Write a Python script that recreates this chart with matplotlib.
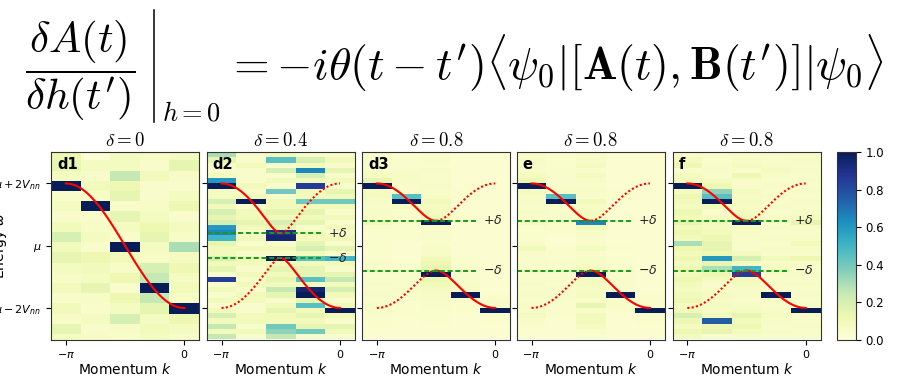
import matplotlib
matplotlib.use("Agg")
import matplotlib.pyplot as plt
from matplotlib.lines import Line2D
import numpy as np

plt.rcParams["font.family"] = "DejaVu Sans"
plt.rcParams["mathtext.fontset"] = "dejavusans"

# momentum points (units of pi) and the delta of each panel
momentum = np.array([-1.0, -0.75, -0.5, -0.25, 0.0]) * np.pi
deltas = [0, 0.4, 0.8, 0.8, 0.8]
titles = ["0", "0.4", "0.8", "0.8", "0.8"]
labels = ["d1", "d2", "d3", "e", "f"]

# spectral weight in percent, rows from top (high energy) to bottom
# d1: coarse energy bins (19 rows)
d1 = [
    [12, 2, 8, 6, 8],
    [15, 8, 8, 5, 15],
    [8, 5, 25, 10, 6],
    [100, 10, 12, 5, 5],
    [5, 6, 15, 5, 8],
    [8, 100, 5, 6, 12],
    [5, 5, 15, 8, 5],
    [10, 6, 8, 12, 8],
    [20, 8, 5, 15, 6],
    [10, 5, 100, 8, 30],
    [15, 12, 10, 6, 8],
    [8, 10, 6, 20, 12],
    [6, 8, 12, 25, 8],
    [10, 15, 5, 100, 10],
    [5, 6, 12, 25, 6],
    [10, 5, 8, 15, 100],
    [6, 8, 20, 8, 12],
    [15, 5, 6, 10, 8],
    [8, 6, 5, 8, 5],
]

# d2 .. f: fine energy bins (36 rows)
d2 = [
    [30, 5, 10, 5, 5],
    [15, 5, 45, 20, 10],
    [5, 10, 5, 10, 5],
    [5, 5, 20, 65, 15],
    [8, 5, 5, 20, 5],
    [60, 5, 10, 10, 10],
    [100, 10, 5, 85, 5],
    [8, 5, 40, 10, 15],
    [8, 10, 5, 10, 10],
    [20, 100, 10, 40, 40],
    [10, 5, 10, 10, 10],
    [20, 10, 15, 15, 5],
    [15, 10, 10, 10, 10],
    [20, 15, 20, 15, 5],
    [60, 10, 15, 5, 10],
    [65, 5, 90, 10, 5],
    [50, 10, 95, 10, 10],
    [15, 5, 5, 15, 5],
    [10, 10, 10, 20, 15],
    [10, 5, 5, 10, 5],
    [20, 10, 100, 45, 50],
    [10, 10, 10, 10, 10],
    [15, 5, 15, 15, 5],
    [5, 10, 10, 15, 15],
    [85, 5, 15, 45, 25],
    [5, 10, 10, 10, 10],
    [10, 5, 25, 95, 20],
    [5, 10, 15, 100, 10],
    [10, 10, 5, 15, 5],
    [5, 5, 10, 45, 10],
    [10, 5, 15, 10, 100],
    [20, 10, 10, 15, 10],
    [10, 10, 10, 10, 5],
    [25, 5, 40, 15, 15],
    [10, 10, 35, 40, 10],
    [25, 5, 25, 5, 5],
]

d3 = [
    [5, 3, 4, 3, 3],
    [6, 4, 5, 3, 3],
    [5, 4, 4, 3, 3],
    [6, 5, 6, 3, 3],
    [8, 6, 5, 3, 3],
    [15, 6, 5, 3, 3],
    [100, 5, 6, 3, 3],
    [8, 5, 5, 4, 3],
    [8, 45, 6, 4, 3],
    [6, 100, 10, 3, 3],
    [5, 8, 8, 3, 3],
    [6, 5, 8, 3, 3],
    [6, 5, 10, 4, 3],
    [10, 5, 100, 3, 3],
    [5, 4, 6, 3, 3],
    [4, 4, 5, 3, 3],
    [4, 4, 5, 3, 3],
    [4, 3, 4, 3, 3],
    [4, 3, 6, 3, 3],
    [4, 3, 6, 3, 3],
    [4, 3, 10, 4, 3],
    [5, 4, 12, 4, 3],
    [5, 5, 15, 4, 3],
    [5, 5, 100, 5, 3],
    [5, 5, 12, 5, 3],
    [6, 5, 10, 6, 3],
    [5, 6, 8, 6, 3],
    [6, 5, 6, 100, 4],
    [5, 4, 5, 5, 5],
    [6, 4, 5, 4, 6],
    [5, 4, 4, 4, 100],
    [5, 4, 4, 3, 5],
    [4, 3, 4, 3, 4],
    [4, 3, 3, 3, 3],
    [3, 3, 3, 3, 3],
    [3, 3, 3, 3, 3],
]

e = [
    [5, 4, 5, 3, 3],
    [6, 4, 6, 3, 3],
    [5, 4, 8, 3, 3],
    [6, 5, 5, 3, 3],
    [8, 5, 8, 3, 3],
    [12, 5, 6, 3, 3],
    [100, 5, 5, 3, 3],
    [8, 6, 6, 4, 3],
    [6, 45, 5, 4, 3],
    [6, 100, 10, 3, 3],
    [5, 6, 6, 3, 3],
    [6, 5, 8, 3, 3],
    [5, 5, 8, 3, 3],
    [8, 5, 65, 3, 3],
    [5, 4, 10, 3, 3],
    [4, 4, 6, 3, 3],
    [4, 3, 5, 3, 3],
    [5, 3, 5, 3, 3],
    [10, 4, 8, 4, 3],
    [5, 4, 5, 3, 3],
    [5, 4, 6, 4, 3],
    [5, 5, 6, 4, 3],
    [5, 4, 8, 4, 3],
    [5, 5, 100, 5, 3],
    [5, 5, 8, 5, 3],
    [6, 4, 8, 5, 3],
    [5, 5, 6, 5, 3],
    [6, 5, 8, 100, 4],
    [5, 4, 6, 5, 4],
    [6, 4, 15, 5, 5],
    [5, 4, 6, 4, 100],
    [8, 4, 10, 3, 5],
    [5, 3, 10, 3, 4],
    [4, 3, 8, 3, 3],
    [3, 3, 5, 3, 3],
    [3, 3, 4, 3, 3],
]

f = [
    [5, 5, 5, 5, 5],
    [8, 4, 6, 5, 6],
    [12, 5, 8, 6, 5],
    [5, 6, 5, 8, 6],
    [8, 5, 12, 6, 5],
    [10, 8, 6, 5, 6],
    [100, 12, 5, 6, 5],
    [8, 35, 8, 5, 6],
    [12, 45, 6, 6, 5],
    [10, 100, 8, 5, 6],
    [8, 10, 6, 6, 5],
    [12, 5, 8, 5, 6],
    [10, 8, 10, 6, 8],
    [15, 10, 100, 5, 15],
    [10, 8, 8, 6, 6],
    [12, 10, 6, 5, 5],
    [10, 12, 5, 6, 6],
    [30, 15, 5, 5, 10],
    [12, 15, 5, 6, 6],
    [10, 12, 8, 5, 5],
    [12, 60, 20, 10, 12],
    [8, 15, 8, 6, 6],
    [12, 30, 50, 8, 5],
    [10, 12, 85, 6, 6],
    [12, 8, 10, 5, 5],
    [10, 5, 8, 6, 6],
    [8, 6, 6, 5, 5],
    [10, 8, 6, 100, 6],
    [12, 6, 5, 6, 5],
    [8, 8, 6, 5, 6],
    [10, 6, 8, 6, 100],
    [20, 10, 15, 8, 6],
    [12, 75, 10, 6, 5],
    [8, 12, 12, 5, 6],
    [12, 15, 8, 6, 5],
    [8, 5, 6, 5, 5],
]

panels = [d1, d2, d3, e, f]

W, H = 899, 377
fig = plt.figure(figsize=(W / 100, H / 100), dpi=100)

# the response formula, set in pieces so the evaluation bar can span the fraction
eq_base = 1 - 80 / H
fig.text(25 / W, eq_base, r"$\dfrac{\delta A(t)}{\delta h(t')}$", fontsize=31,
         math_fontfamily="cm", va="baseline", ha="left")
fig.add_artist(Line2D([154 / W, 154 / W], [1 - 10 / H, 1 - 122 / H], color="black", lw=1.1))
fig.text(162 / W, 1 - 121 / H, r"$h=0$", fontsize=19, math_fontfamily="cm",
         va="baseline", ha="left")
fig.text(225 / W, eq_base,
         r"$= -i\theta(t-t')\langle\psi_0|[\mathbf{A}(t),\mathbf{B}(t')]|\psi_0\rangle$",
         fontsize=33, math_fontfamily="cm", va="baseline", ha="left")

lefts = [51, 206.7, 362, 516.7, 672.5]
bottom, pw, ph = 37, 148, 188

dk = momentum[1] - momentum[0]
k_edges = np.append(momentum - dk / 2, momentum[-1] + dk / 2)
coarse_edges = np.linspace(-3.17, 3.07, 20)
fine_edges = np.linspace(-3, 3, 37)
kk = np.linspace(-np.pi, 0, 300)

for i, (vals, delta) in enumerate(zip(panels, deltas)):
    ax = fig.add_axes([lefts[i] / W, bottom / H, pw / W, ph / H])
    z = np.flipud(np.array(vals)) / 100.0
    edges = coarse_edges if i == 0 else fine_edges
    mesh = ax.pcolormesh(k_edges, edges, z, cmap="YlGnBu", vmin=0, vmax=1)

    band = np.sqrt((4 - delta ** 2) * np.cos(kk) ** 2 + delta ** 2)
    left = kk <= -np.pi / 2
    right = kk >= -np.pi / 2
    ax.plot(kk[left], band[left], color="red", lw=1.5)
    ax.plot(kk[right], -band[right], color="red", lw=1.5)
    if delta > 0:
        ax.plot(kk[left], -band[left], color="red", lw=1.5, ls=(0, (1, 1.1)))
        ax.plot(kk[right], band[right], color="red", lw=1.5, ls=(0, (1, 1.1)))
        for s, txt in [(1, r"$+\delta$"), (-1, r"$-\delta$")]:
            ax.plot([k_edges[0], -0.45], [s * delta, s * delta], color="#1a9a1a",
                    lw=1.4, ls=(0, (2.6, 1.4)))
            ax.text(-0.32, s * delta, txt, fontsize=9, va="center", ha="left", color="#222222")

    ax.set_xlim(k_edges[0], k_edges[-1])
    ax.set_ylim(-3.03, 3.01)
    ax.set_xticks([-np.pi, 0])
    ax.set_xticklabels([r"$-\pi$", "0"], fontsize=8)
    ax.set_yticks([2, 0, -2])
    if i == 0:
        ax.set_yticklabels([r"$\mu+2V_{nn}$", r"$\mu$", r"$\mu-2V_{nn}$"], fontsize=8)
        ax.set_ylabel(r"Energy $\omega$", fontsize=10)
        ax.yaxis.set_label_coords(-0.287, 0.5)
    else:
        ax.set_yticklabels([])
    ax.set_xlabel(r"Momentum $k$", fontsize=10, labelpad=2)
    ax.set_title(r"$\delta = " + titles[i] + "$", fontsize=13.5, math_fontfamily="cm", pad=4)
    ax.text(0.04, 0.975, labels[i], transform=ax.transAxes, fontsize=10.5,
            fontweight="bold", va="top", ha="left")
    for sp in ax.spines.values():
        sp.set_color("#333333")

cax = fig.add_axes([836.5 / W, bottom / H, 19.5 / W, ph / H])
cb = fig.colorbar(mesh, cax=cax, ticks=np.arange(0, 1.01, 0.2))
cb.ax.tick_params(labelsize=8.5)
cb.outline.set_edgecolor("#333333")

fig.savefig("out.png", dpi=100)
